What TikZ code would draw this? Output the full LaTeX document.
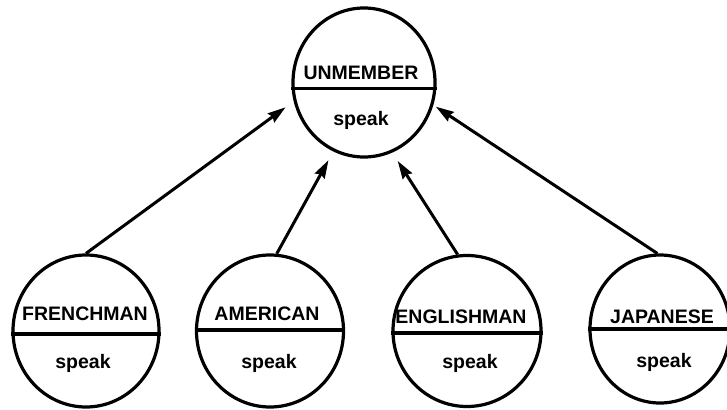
\documentclass[tikz,border=0pt]{standalone}
\usepackage{fontspec}
\setmainfont{Liberation Sans}
\usetikzlibrary{arrows.meta,shapes.geometric,calc}
\begin{document}
\begin{tikzpicture}[x=1pt,y=-1pt,
  cls/.style={draw,ellipse,line width=3.2pt,inner sep=0pt},
  divider/.style={line width=3.2pt},
  lbl/.style={anchor=base,inner sep=0pt,font=\fontsize{19.5}{22}\selectfont\bfseries},
  link/.style={line width=3pt,-{Stealth[length=18pt,width=11pt,inset=2pt]}}
]
\useasboundingbox (0,0) rectangle (727,409);

% superclass
\node[cls,minimum width=142pt,minimum height=149pt] (un) at (364,82.5) {};
\draw[divider] ($(un.west)+(0,6)$) -- ($(un.east)+(0,6)$);
\node[lbl] (un-name) at (361,80) {UNMEMBER};
\node[lbl] (un-op) at (361,125) {speak};

% subclasses
\node[cls,minimum width=146pt,minimum height=152pt] (fr) at (86,331) {};
\draw[divider] ($(fr.west)+(0,3)$) -- ($(fr.east)+(0,3)$);
\node[lbl] (fr-name) at (85,320.5) {FRENCHMAN};
\node[lbl] (fr-op) at (83,368) {speak};

\node[cls,minimum width=147pt,minimum height=152pt] (am) at (270,331) {};
\draw[divider] ($(am.west)+(0,-1)$) -- ($(am.east)+(0,-1)$);
\node[lbl] (am-name) at (267,320) {AMERICAN};
\node[lbl] (am-op) at (269,368) {speak};

\node[cls,minimum width=148pt,minimum height=151pt] (en) at (467,331) {};
\draw[divider] ($(en.west)+(0,2)$) -- ($(en.east)+(0,2)$);
\node[lbl] (en-name) at (461,323) {ENGLISHMAN};
\node[lbl] (en-op) at (470,368) {speak};

\node[cls,minimum width=140pt,minimum height=148pt] (ja) at (660,329) {};
\draw[divider] (ja.west) -- (ja.east);
\node[lbl] (ja-name) at (662,323) {JAPANESE};
\node[lbl] (ja-op) at (664,367) {speak};

% inheritance arrows
\draw[link,shorten >=10pt] (fr.90) -- (un.195);
\draw[link,shorten >=10pt] (am.85) -- (un.246);
\draw[link,shorten >=10pt] (en.97) -- (un.292);
\draw[link,shorten >=3pt] (ja.92) -- (un.342);
\end{tikzpicture}
\end{document}
